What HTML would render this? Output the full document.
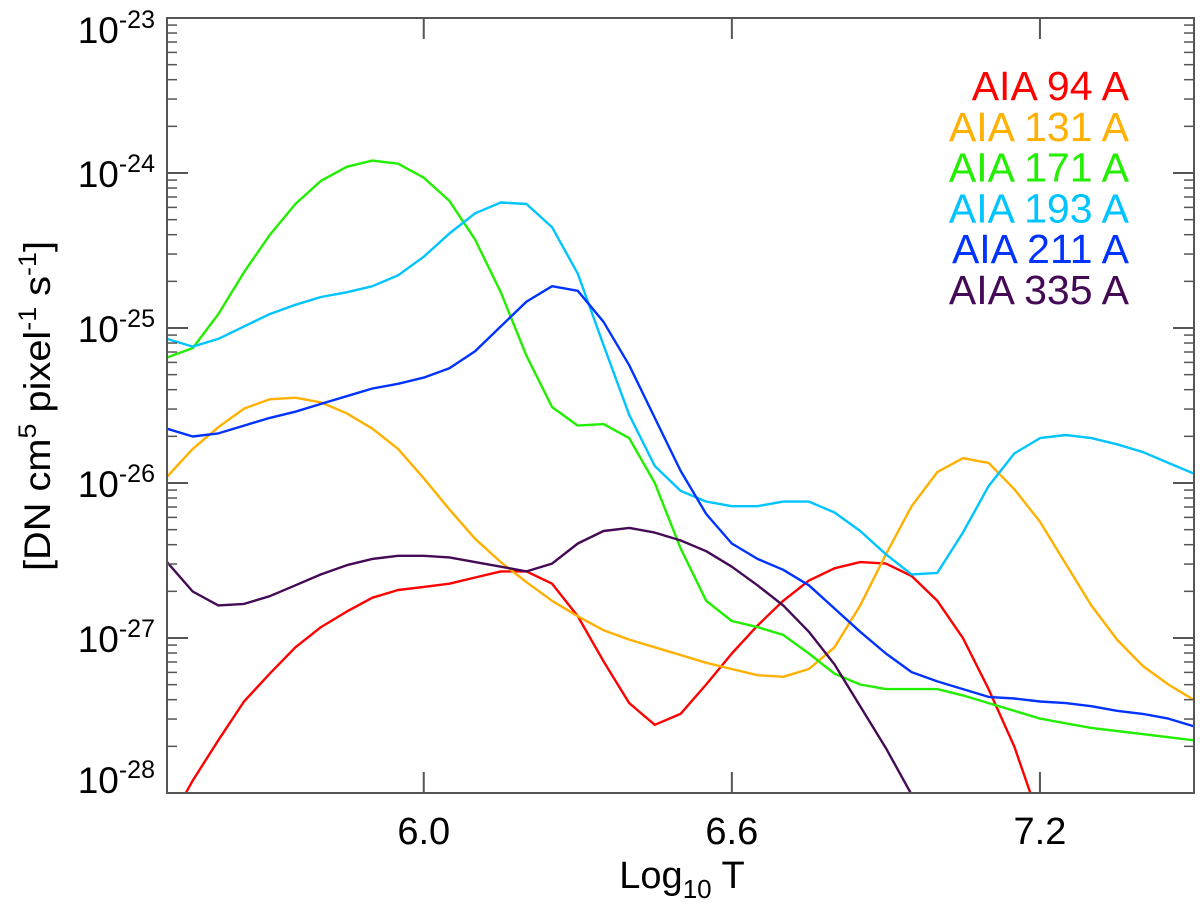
<!DOCTYPE html>
<html><head><meta charset="utf-8">
<style>
html,body{margin:0;padding:0;background:#fff;width:1200px;height:904px;overflow:hidden;}
svg{display:block;font-family:"Liberation Sans",sans-serif;}
</style></head>
<body>
<svg id="chart" width="1200" height="904" viewBox="0 0 1200 904" xmlns="http://www.w3.org/2000/svg" style="position:absolute;left:0;top:0;">
<g id="curves"></g>
<g id="axes"></g>
<g id="legend"></g>
<text x="682" y="888" font-size="38" text-anchor="middle">Log<tspan font-size="26" dy="10">10</tspan><tspan dy="-10"> T</tspan></text>
<text transform="translate(50,406) rotate(-90)" font-size="37" text-anchor="middle" textLength="330" lengthAdjust="spacingAndGlyphs">[DN cm<tspan font-size="25" dy="-14">5</tspan><tspan dy="14"> pixel</tspan><tspan font-size="25" dy="-14">-1</tspan><tspan dy="14"> s</tspan><tspan font-size="25" dy="-14">-1</tspan><tspan dy="14">]</tspan></text>
</svg>
<script>
const logT = [];
for (let i = 0; i <= 40; i++) logT.push(5.5 + i * 0.05);
const seriesNames = ["AIA 94 A","AIA 131 A","AIA 171 A","AIA 193 A","AIA 211 A","AIA 335 A"];
const seriesColors = ["#ff0000","#ffb000","#22ee00","#00c4ff","#0033ff","#440a55"];
const aia94 = [-28.22,-27.92,-27.66,-27.41,-27.23,-27.06,-26.93,-26.83,-26.74,-26.69,-26.67,-26.65,-26.61,-26.57,-26.57,-26.65,-26.86,-27.15,-27.42,-27.56,-27.49,-27.30,-27.10,-26.92,-26.76,-26.63,-26.55,-26.51,-26.52,-26.60,-26.76,-27.00,-27.33,-27.70,-28.18,-28.7,-29.2,-29.7,-30.2,-30.7,-31.2];
const aia131 = [-25.96,-25.78,-25.64,-25.52,-25.46,-25.45,-25.48,-25.55,-25.65,-25.78,-25.97,-26.17,-26.36,-26.51,-26.64,-26.76,-26.86,-26.95,-27.01,-27.06,-27.11,-27.16,-27.20,-27.24,-27.25,-27.20,-27.06,-26.79,-26.46,-26.15,-25.93,-25.84,-25.87,-26.04,-26.25,-26.52,-26.79,-27.01,-27.18,-27.30,-27.40];
const aia171 = [-25.19,-25.13,-24.91,-24.64,-24.40,-24.20,-24.05,-23.96,-23.92,-23.94,-24.03,-24.18,-24.43,-24.77,-25.18,-25.51,-25.63,-25.62,-25.71,-26.00,-26.42,-26.76,-26.89,-26.93,-26.98,-27.10,-27.23,-27.30,-27.33,-27.33,-27.33,-27.37,-27.42,-27.47,-27.52,-27.55,-27.58,-27.60,-27.62,-27.64,-27.66];
const aia193 = [-25.07,-25.12,-25.07,-24.99,-24.91,-24.85,-24.80,-24.77,-24.73,-24.66,-24.54,-24.39,-24.26,-24.19,-24.20,-24.35,-24.65,-25.11,-25.56,-25.89,-26.05,-26.12,-26.15,-26.15,-26.12,-26.12,-26.19,-26.31,-26.46,-26.59,-26.58,-26.32,-26.02,-25.81,-25.71,-25.69,-25.71,-25.75,-25.80,-25.87,-25.94];
const aia211 = [-25.65,-25.70,-25.68,-25.63,-25.58,-25.54,-25.49,-25.44,-25.39,-25.36,-25.32,-25.26,-25.15,-24.99,-24.83,-24.73,-24.76,-24.96,-25.24,-25.58,-25.92,-26.20,-26.39,-26.49,-26.56,-26.66,-26.81,-26.96,-27.10,-27.22,-27.28,-27.33,-27.38,-27.39,-27.41,-27.42,-27.44,-27.47,-27.49,-27.52,-27.57];
const aia335 = [-26.51,-26.70,-26.79,-26.78,-26.73,-26.66,-26.59,-26.53,-26.49,-26.47,-26.47,-26.48,-26.51,-26.54,-26.57,-26.52,-26.39,-26.31,-26.29,-26.32,-26.37,-26.44,-26.54,-26.66,-26.79,-26.96,-27.17,-27.44,-27.71,-28.01,-28.35,-28.7,-29.1,-29.5,-29.9,-30.3,-30.7,-31.1,-31.5,-31.9,-32.3];
const xTicks = [6.0, 6.6, 7.2];
const xTickLabels = ["6.0","6.6","7.2"];
const yDecades = [-23,-24,-25,-26,-27,-28];

const L=167,R=1194,T=18,B=793;
const xMin=5.5,xMax=7.5,yMax=-23,yMin=-28;
const sx = v => L + (v-xMin)/(xMax-xMin)*(R-L);
const sy = v => T + (yMax-v)/(yMax-yMin)*(B-T);
const NS="http://www.w3.org/2000/svg";
function mk(tag, attrs, parent){const e=document.createElementNS(NS,tag);for(const k in attrs)e.setAttribute(k,attrs[k]);parent.appendChild(e);return e;}

const defs = mk('defs',{},document.getElementById('chart'));
const cp = mk('clipPath',{id:'clip'},defs);
mk('rect',{x:L,y:T,width:R-L,height:B-T},cp);

const curves = document.getElementById('curves');
curves.setAttribute('clip-path','url(#clip)');
const allSeries=[aia94,aia131,aia171,aia193,aia211,aia335];
allSeries.forEach((s,k)=>{
  const d = s.map((v,i)=>(i?'L':'M')+sx(logT[i]).toFixed(1)+' '+sy(v).toFixed(1)).join(' ');
  const p = mk('path',{d:d,fill:'none',stroke:seriesColors[k],'stroke-width':2.4,'stroke-linejoin':'round'},curves);
  
  
});

const axes = document.getElementById('axes');
const frame = mk('rect',{x:L,y:T,width:R-L,height:B-T,fill:'none',stroke:'#555','stroke-width':2},axes);


xTicks.forEach((t,i)=>{
  const x=sx(t);
  mk('line',{x1:x,x2:x,y1:B,y2:B-21,stroke:'#555','stroke-width':2},axes);
  mk('line',{x1:x,x2:x,y1:T,y2:T+21,stroke:'#555','stroke-width':2},axes);
  const tx = mk('text',{x:x,y:844,'font-size':38,'text-anchor':'middle'},axes);
  tx.textContent = xTickLabels[i];
  
  
});
yDecades.forEach((d,i)=>{
  const y=sy(d);
  mk('line',{x1:L,x2:L+21,y1:y,y2:y,stroke:'#555','stroke-width':2},axes);
  mk('line',{x1:R,x2:R-21,y1:y,y2:y,stroke:'#555','stroke-width':2},axes);
  if(d>yMin){for(let m=2;m<=9;m++){const yy=sy(d-1+Math.log10(m));
    mk('line',{x1:L,x2:L+10,y1:yy,y2:yy,stroke:'#555','stroke-width':1.5},axes);
    mk('line',{x1:R,x2:R-10,y1:yy,y2:yy,stroke:'#555','stroke-width':1.5},axes);}}
  const off = i===0?25:(i===yDecades.length-1?0:14);
  const tx = mk('text',{x:155,y:y+off,'font-size':37,'text-anchor':'end'},axes);
  
  
  const a = mk('tspan',{},tx); a.textContent='10';
  const b = mk('tspan',{'font-size':25,dy:-15},tx); b.textContent=String(d);
});

const legend = document.getElementById('legend');
seriesNames.forEach((n,k)=>{
  const t = mk('text',{x:1129,y:100+40.8*k,'font-size':41,'text-anchor':'end',fill:seriesColors[k]},legend);
  t.textContent = n;
  
  
});
</script>
</body></html>
